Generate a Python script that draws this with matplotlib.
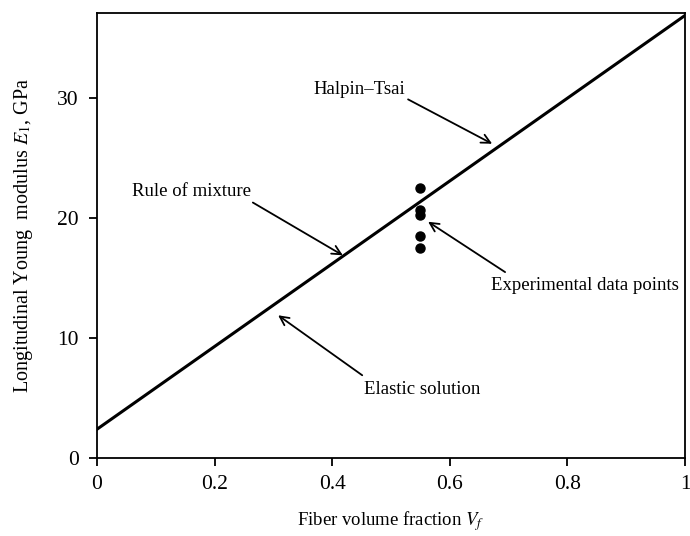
import numpy as np
import matplotlib
matplotlib.use("Agg")
import matplotlib.pyplot as plt

plt.rcParams['font.family'] = ['Liberation Serif', 'DejaVu Serif']
plt.rcParams['mathtext.fontset'] = 'stix'

# data
vf_line = [0.0, 1.0]
e1_line = [2.4, 36.9]
vf_exp = [0.55, 0.55, 0.55, 0.55, 0.55]
e1_exp = [22.5, 20.7, 20.3, 18.5, 17.5]

# annotations: label, arrow tip, arrow tail, text centre
labels = ['Halpin\u2013Tsai', 'Rule of mixture', 'Experimental data points', 'Elastic solution']
tips = [(0.672, 26.2), (0.418, 16.9), (0.563, 19.7), (0.308, 11.9)]
starts = [(0.529, 29.9), (0.265, 21.3), (0.694, 15.5), (0.451, 6.9)]
text_pos = [(0.446, 30.7), (0.16, 22.2), (0.83, 14.35), (0.553, 5.7)]

fig = plt.figure(figsize=(6.9, 5.36), dpi=100)
ax = fig.add_axes([0.1406, 0.1455, 0.8522, 0.8302])

ax.plot(vf_line, e1_line, color='black', lw=2.2)
ax.plot(vf_exp, e1_exp, 'o', color='black', ms=6.5)

for lab, tip, st, tp in zip(labels, tips, starts, text_pos):
    ax.annotate('', xy=tip, xytext=st,
                arrowprops=dict(arrowstyle='->', color='black', lw=1.3,
                                mutation_scale=16, shrinkA=0, shrinkB=0))
    ax.text(tp[0], tp[1], lab, ha='center', va='center', fontsize=13.5)

ax.set_xlim(0, 1)
ax.set_ylim(0, 37.1)
ax.set_xticks([0, 0.2, 0.4, 0.6, 0.8, 1])
ax.set_xticklabels(['0', '0.2', '0.4', '0.6', '0.8', '1'])
ax.set_yticks([0, 10, 20, 30])
ax.tick_params(direction='out', length=6, width=1.3, labelsize=15.5)
ax.tick_params(axis='x', pad=6)
ax.tick_params(axis='y', pad=7)
for s in ax.spines.values():
    s.set_linewidth(1.3)

ax.set_xlabel('Fiber volume fraction $V_f$', fontsize=13.5, labelpad=11)
ax.set_ylabel('Longitudinal Young  modulus $E_1$, GPa', fontsize=14.5, labelpad=16)

fig.savefig('out.png', dpi=100)
